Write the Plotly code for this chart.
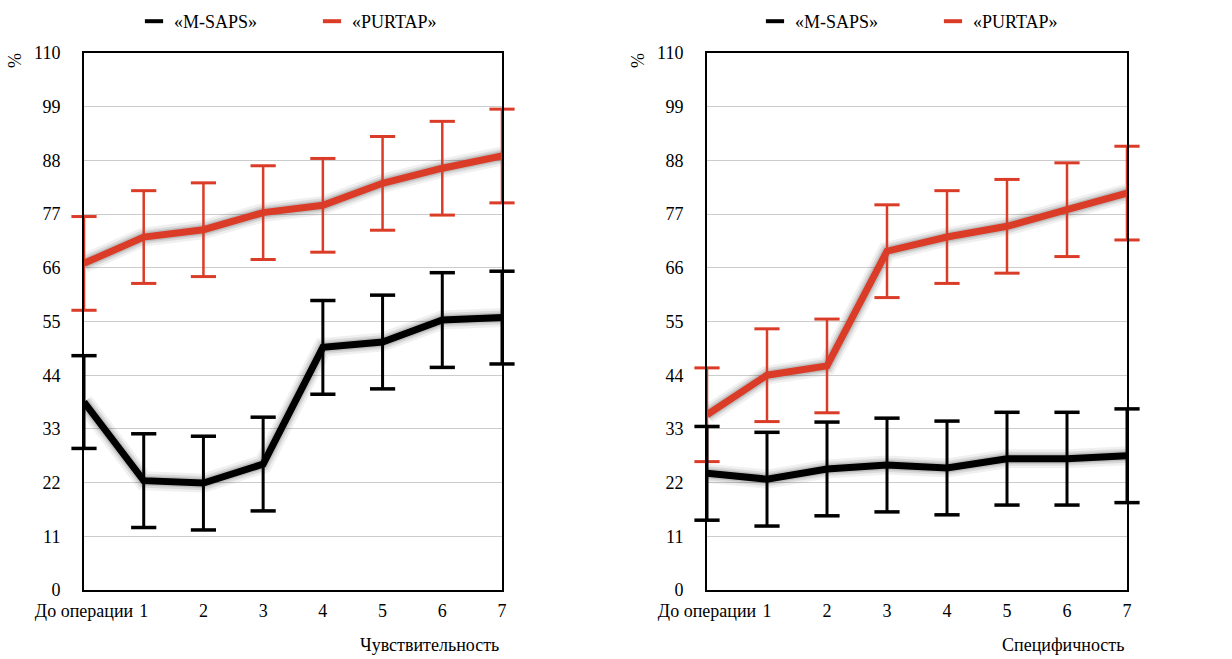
import plotly.graph_objects as go

categories = ["До операции", "1", "2", "3", "4", "5", "6", "7"]
y_ticks = [0, 11, 22, 33, 44, 55, 66, 77, 88, 99, 110]

# Чувствительность (left)
sens_msaps = [38.5, 22.4, 21.9, 25.8, 49.7, 50.8, 55.3, 55.8]
sens_msaps_err = [9.5, 9.6, 9.6, 9.6, 9.6, 9.6, 9.7, 9.5]
sens_purtap = [66.9, 72.3, 73.8, 77.3, 78.8, 83.3, 86.4, 88.9]
sens_purtap_err = [9.6, 9.5, 9.6, 9.6, 9.6, 9.6, 9.6, 9.6]

# Специфичность (right)
spec_msaps = [23.9, 22.7, 24.8, 25.6, 25.0, 26.9, 26.9, 27.5]
spec_msaps_err = [9.6, 9.6, 9.6, 9.6, 9.6, 9.5, 9.5, 9.6]
spec_purtap = [35.9, 44.0, 45.9, 69.4, 72.3, 74.5, 77.9, 81.3]
spec_purtap_err = [9.6, 9.5, 9.6, 9.5, 9.5, 9.6, 9.6, 9.6]

series_names = ["«M-SAPS»", "«PURTAP»"]
BLACK = "#000000"
RED = "#DA3C27"
FONT = "Times New Roman, Liberation Serif, Tinos, serif"

fig = go.Figure()

def add_series(xa, ya, y, err, color):
    # soft shadow
    for w, a in [(19, 0.06), (14, 0.09), (10, 0.12)]:
        fig.add_trace(go.Scatter(x=categories, y=y, mode="lines", xaxis=xa, yaxis=ya,
                                 line=dict(color=f"rgba(0,0,0,{a})", width=w),
                                 showlegend=False, hoverinfo="skip"))
    th = 3 if color == BLACK else 2.5
    fig.add_trace(go.Scatter(x=categories, y=y, mode="lines", xaxis=xa, yaxis=ya,
                             line=dict(color=color, width=7),
                             error_y=dict(type="data", array=err, visible=True, color=color,
                                          thickness=th, width=0),
                             showlegend=False))
    # error-bar caps (drawn as markers so they are not clipped at the plot edges)
    caps_x = categories + categories
    caps_y = [v + e for v, e in zip(y, err)] + [v - e for v, e in zip(y, err)]
    fig.add_trace(go.Scatter(x=caps_x, y=caps_y, mode="markers", xaxis=xa, yaxis=ya,
                             marker=dict(symbol="line-ew", size=18, color=color,
                                         line=dict(color=color, width=th + 0.5)),
                             cliponaxis=False, showlegend=False, hoverinfo="skip"))

add_series("x", "y", sens_purtap, sens_purtap_err, RED)
add_series("x", "y", sens_msaps, sens_msaps_err, BLACK)
add_series("x2", "y2", spec_purtap, spec_purtap_err, RED)
add_series("x2", "y2", spec_msaps, spec_msaps_err, BLACK)

# legend entries (short dashes)
for lg, xa, ya in [("legend", "x", "y"), ("legend2", "x2", "y2")]:
    for name, color in zip(series_names, [BLACK, RED]):
        fig.add_trace(go.Scatter(x=[None], y=[None], mode="markers", name=name, xaxis=xa, yaxis=ya,
                                 marker=dict(symbol="line-ew", size=13, color=color,
                                             line=dict(color=color, width=4)),
                                 legend=lg, showlegend=True))

W, H = 1232, 659
ydom = [(H - 590) / H, (H - 53) / H]
xdom1 = [84 / W, 502 / W]
xdom2 = [707 / W, 1127 / W]

xcommon = dict(type="category", range=[0, 7], tickmode="array", tickvals=categories, ticktext=categories,
               showgrid=False, showline=True, linecolor="black", linewidth=2, mirror=True,
               ticks="", ticklabelstandoff=3, tickfont=dict(family=FONT, size=18, color="black"),
               zeroline=False, fixedrange=True, automargin=False)
ycommon = dict(range=[0, 110], tickmode="array", tickvals=y_ticks,
               showgrid=True, gridcolor="#CCCCCC", gridwidth=1,
               showline=True, linecolor="black", linewidth=2, mirror=True,
               ticks="", ticklabelstandoff=18, tickfont=dict(family=FONT, size=18, color="black"),
               zeroline=False, fixedrange=True, automargin=False)

legcommon = dict(orientation="h", font=dict(family=FONT, size=18, color="black"),
                 bgcolor="rgba(0,0,0,0)", yanchor="top", y=1 - 3 / H, xanchor="left",
                 entrywidth=133, entrywidthmode="pixels", itemsizing="trace")

fig.update_layout(
    width=W, height=H,
    margin=dict(l=0, r=0, t=0, b=0, autoexpand=False),
    paper_bgcolor="white", plot_bgcolor="white",
    font=dict(family=FONT, size=18, color="black"),
    xaxis=dict(domain=xdom1, anchor="y", **xcommon),
    yaxis=dict(domain=ydom, anchor="x", **ycommon),
    xaxis2=dict(domain=xdom2, anchor="y2", **xcommon),
    yaxis2=dict(domain=ydom, anchor="x2", **ycommon),
    legend=dict(x=134 / W, **legcommon),
    legend2=dict(x=755 / W, **legcommon),
    annotations=[
        dict(text="%", x=15 / W, y=1 - 61 / H, xref="paper", yref="paper", showarrow=False,
             xanchor="center", yanchor="middle",
             textangle=-90, font=dict(family=FONT, size=18, color="black")),
        dict(text="%", x=638 / W, y=1 - 61 / H, xref="paper", yref="paper", showarrow=False,
             xanchor="center", yanchor="middle",
             textangle=-90, font=dict(family=FONT, size=18, color="black")),
        dict(text="Чувствительность", x=501 / W, y=1 - 645 / H, xref="paper", yref="paper",
             showarrow=False, xanchor="right", yanchor="middle",
             font=dict(family=FONT, size=18, color="black")),
        dict(text="Специфичность", x=1126 / W, y=1 - 645 / H, xref="paper", yref="paper",
             showarrow=False, xanchor="right", yanchor="middle",
             font=dict(family=FONT, size=18, color="black")),
    ],
    showlegend=True,
)

fig.write_html("out.html")
